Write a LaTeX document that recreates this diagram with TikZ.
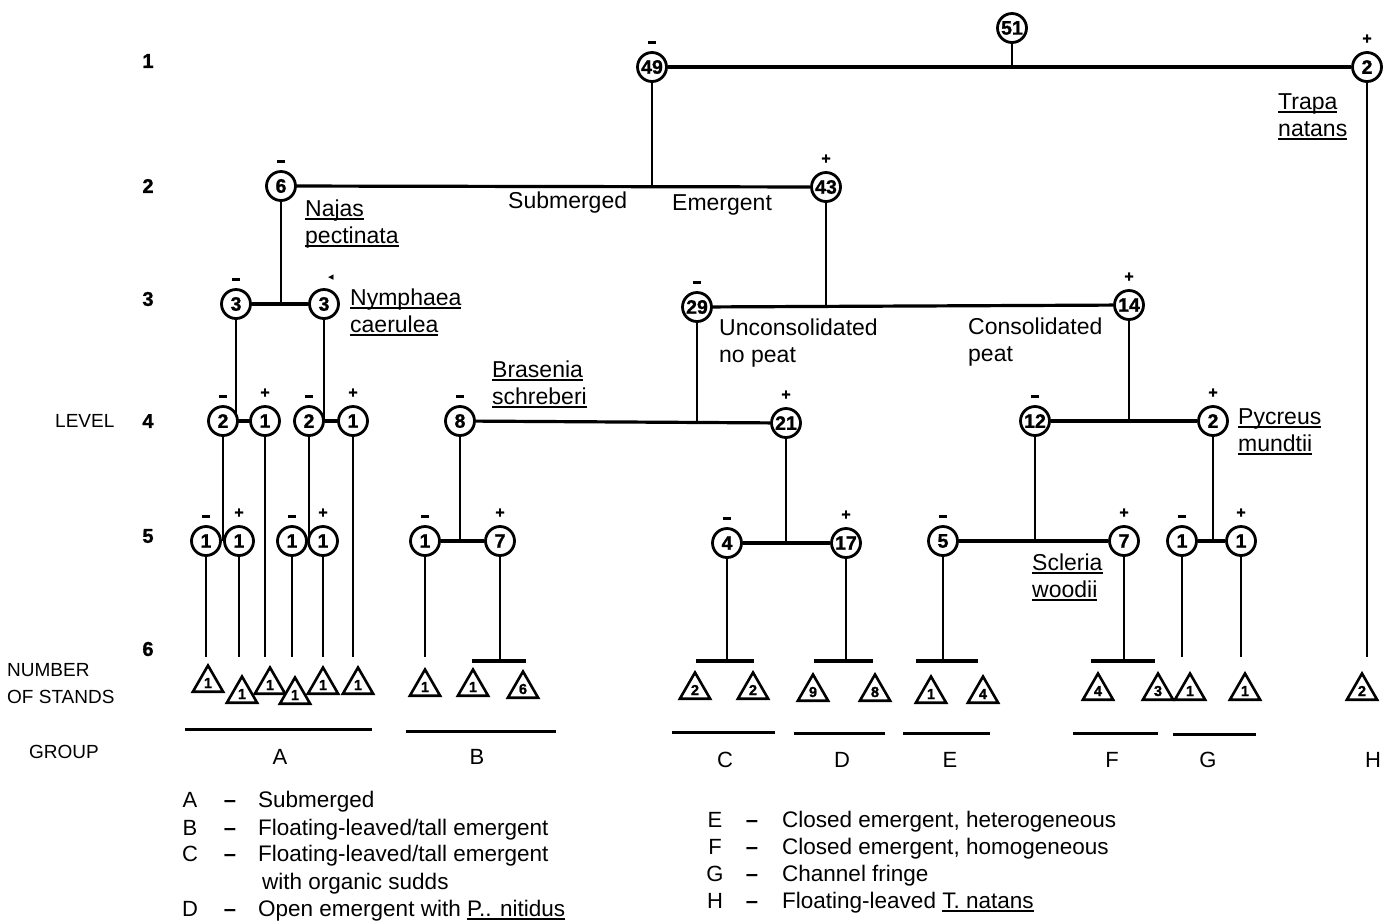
\documentclass[tikz,border=0pt]{standalone}
\usepackage{fontspec}
\setmainfont{Liberation Sans}
\newfontfamily\djv{DejaVu Sans}
\newfontfamily\numfont[FakeBold=1.2]{Liberation Sans Bold}
\usetikzlibrary{shapes.geometric,backgrounds,calc}
\newcommand\ulb[1]{\setbox0=\hbox{#1}\rlap{\rule[-3.5pt]{\wd0}{1.7pt}}\box0}
\newcommand\sgnminus{\rule{8.5pt}{2.8pt}}
\newcommand\sgnplus{{\numfont\fontsize{16}{16}\selectfont +}}
\begin{document}
\begin{tikzpicture}[x=1pt,y=-1pt,
  cnode/.style={circle,draw,fill=white,line width=2.8pt,minimum size=29pt,inner sep=0pt,font=\numfont\fontsize{19.5}{19.5}\selectfont},
  tri/.style={regular polygon,regular polygon sides=3,draw,fill=white,line width=2.6pt,minimum size=35pt,inner sep=0pt,font=\numfont\fontsize{14.5}{14.5}\selectfont},
  sgn/.style={inner sep=0pt},
  lm/.style={label={[sgn]above:\sgnminus}},
  lp/.style={label={[sgn]above:\sgnplus}},
  label distance=7pt,
  ln/.style={line width=2.6pt},
  hb/.style={line width=3.2pt},
  gbar/.style={line width=3pt},
  txt/.style={font=\fontsize{23}{27}\selectfont,inner sep=0pt,anchor=west,align=left},
  lev/.style={font=\fontsize{19}{27}\selectfont,inner sep=0pt,align=left},
  levn/.style={font=\numfont\fontsize{20}{20}\selectfont,inner sep=0pt},
  grp/.style={font=\fontsize{22}{22}\selectfont,inner sep=0pt},
  kl/.style={font=\fontsize{22}{22}\selectfont,inner sep=0pt,anchor=base},
  leg/.style={font=\fontsize{22.5}{27}\selectfont,inner sep=0pt,anchor=base west},
]
\useasboundingbox (0,0) rectangle (1392,922);

% ---- level labels
\node[levn] (l1) at (148,61) {1};
\node[levn] (l2) at (148,186) {2};
\node[levn] (l3) at (148,299) {3};
\node[levn] (l4) at (148,421) {4};
\node[levn] (l5) at (148,536) {5};
\node[levn] (l6) at (148,649) {6};
\node[lev,anchor=west] (tlev) at (55,421) {LEVEL};
\node[lev,anchor=west] (tnum) at (7,684) {NUMBER\\OF STANDS};
\node[lev,anchor=west] (tgrp) at (29,752) {GROUP};

% ---- circles
\node[cnode] (n51) at (1012,28) {51};
\node[cnode,lm] (n49) at (652,67) {49};
\node[cnode,lp] (n2h) at (1367,67) {2};
\node[cnode,lm] (n6) at (281,186) {6};
\node[cnode,lp] (n43) at (826,187) {43};
\node[cnode,lm] (n3a) at (236,304) {3};
\node[cnode,label={[sgn,xshift=7pt]above:{\djv\fontsize{11}{11}\selectfont ◂}}] (n3b) at (324,304) {3};
\node[cnode,lm] (n29) at (697,307) {29};
\node[cnode,lp] (n14) at (1129,305) {14};
\node[cnode,lm] (n2a) at (223,421) {2};
\node[cnode,lp] (n1a) at (265,421) {1};
\node[cnode,lm] (n2b) at (309,421) {2};
\node[cnode,lp] (n1b) at (353,421) {1};
\node[cnode,lm] (n8) at (460,421) {8};
\node[cnode,lp] (n21) at (786,423) {21};
\node[cnode,lm] (n12) at (1035,421) {12};
\node[cnode,lp] (n2p) at (1213,421) {2};
\node[cnode,lm] (n5a) at (206,541) {1};
\node[cnode,lp] (n5b) at (239,541) {1};
\node[cnode,lm] (n5c) at (292,541) {1};
\node[cnode,lp] (n5d) at (323,541) {1};
\node[cnode,lm] (n5e) at (425,541) {1};
\node[cnode,lp] (n5f) at (500,541) {7};
\node[cnode,lm] (n5g) at (727,543) {4};
\node[cnode,lp] (n5h) at (846,543) {17};
\node[cnode,lm] (n5i) at (943,541) {5};
\node[cnode,lp] (n5j) at (1124,541) {7};
\node[cnode,lm] (n5k) at (1182,541) {1};
\node[cnode,lp] (n5l) at (1241,541) {1};

% ---- triangles (number of stands)
\node[tri] (tA1) at (208,683) {1};
\node[tri] (tA2) at (242,694) {1};
\node[tri] (tA3) at (270,685) {1};
\node[tri] (tA4) at (295,695) {1};
\node[tri] (tA5) at (323,685) {1};
\node[tri] (tA6) at (358,685) {1};
\node[tri] (tB1) at (425,687) {1};
\node[tri] (tB2) at (473,687) {1};
\node[tri] (tB3) at (523,689) {6};
\node[tri] (tC1) at (695,690) {2};
\node[tri] (tC2) at (753,690) {2};
\node[tri] (tD1) at (813,692) {9};
\node[tri] (tD2) at (875,692) {8};
\node[tri] (tE1) at (931,694) {1};
\node[tri] (tE2) at (983,694) {4};
\node[tri] (tF1) at (1098,691) {4};
\node[tri] (tF2) at (1158,691) {3};
\node[tri] (tG1) at (1190,691) {1};
\node[tri] (tG2) at (1245,691) {1};
\node[tri] (tH1) at (1362,691) {2};

% ---- coordinates for free ends
\coordinate (lv) at (0,657);
\coordinate (bv) at (0,661);

% ---- connectors (behind circles)
\begin{scope}[on background layer]
\fill[white] (0,0) rectangle (1392,922);
\draw[hb] (n49) -- (n2h);
\draw[ln] (n51) -- (n51 |- n49);
\draw[hb] (n6) -- (n43);
\draw[ln] (n49) -- (n49 |- n6);
\draw[hb] (n3a) -- (n3b);
\draw[ln] (n6) -- (n6 |- n3a);
\draw[hb] (n29) -- (n14);
\draw[ln] (n43) -- (n43 |- n29);
\draw[hb] (n2a) -- (n1a);
\draw[hb] (n2b) -- (n1b);
\draw[ln] (n3a) -- (n3a |- n2a);
\draw[ln] (n3b) -- (n3b |- n2b);
\draw[hb] (n8) -- (n21);
\draw[ln] (n29) -- (n29 |- n8);
\draw[hb] (n12) -- (n2p);
\draw[ln] (n14) -- (n14 |- n12);
\draw[ln] (n2a) -- (n2a |- n5a);
\draw[ln] (n2b) -- (n2b |- n5c);
\draw[hb] (n5e) -- (n5f);
\draw[ln] (n8) -- (n8 |- n5e);
\draw[hb] (n5g) -- (n5h);
\draw[ln] (n21) -- (n21 |- n5g);
\draw[hb] (n5i) -- (n5j);
\draw[ln] (n12) -- (n12 |- n5i);
\draw[hb] (n5k) -- (n5l);
\draw[ln] (n2p) -- (n2p |- n5k);
% leaves
\draw[ln] (n5a) -- (n5a |- lv);
\draw[ln] (n5b) -- (n5b |- lv);
\draw[ln] (n1a) -- (n1a |- lv);
\draw[ln] (n5c) -- (n5c |- lv);
\draw[ln] (n5d) -- (n5d |- lv);
\draw[ln] (n1b) -- (n1b |- lv);
\draw[ln] (n5e) -- (n5e |- lv);
\draw[ln] (n5k) -- (n5k |- lv);
\draw[ln] (n5l) -- (n5l |- lv);
\draw[ln] (n2h) -- (n2h |- lv);
\draw[ln] (n5f) -- (n5f |- bv);
\draw[ln] (n5g) -- (n5g |- bv);
\draw[ln] (n5h) -- (n5h |- bv);
\draw[ln] (n5i) -- (n5i |- bv);
\draw[ln] (n5j) -- (n5j |- bv);
\draw[hb] ($(n5f |- bv)+(-28,0)$) -- ($(n5f |- bv)+(26,0)$);
\draw[hb] ($(n5g |- bv)+(-31,0)$) -- ($(n5g |- bv)+(27,0)$);
\draw[hb] ($(n5h |- bv)+(-32,0)$) -- ($(n5h |- bv)+(27,0)$);
\draw[hb] ($(n5i |- bv)+(-27,0)$) -- ($(n5i |- bv)+(35,0)$);
\draw[hb] ($(n5j |- bv)+(-33,0)$) -- ($(n5j |- bv)+(31,0)$);
\end{scope}

% ---- branch labels
\node[txt] (tsub) at (508,203) {Submerged};
\node[txt] (temg) at (672,205) {Emergent};
\node[txt] (tnaj) at (305,224) {\ulb{Najas}\\\ulb{pectinata}};
\node[txt] (tnym) at (350,312) {\ulb{Nymphaea}\\\ulb{caerulea}};
\node[txt] (tbra) at (492,384) {\ulb{Brasenia}\\\ulb{schreberi}};
\node[txt] (tunc) at (719,343) {Unconsolidated\\no peat};
\node[txt] (tcon) at (968,342) {Consolidated\\peat};
\node[txt] (tpyc) at (1238,432) {\ulb{Pycreus}\\\ulb{mundtii}};
\node[txt] (tscl) at (1032,577) {\ulb{Scleria}\\\ulb{woodii}};
\node[txt] (ttra) at (1278,117) {\ulb{Trapa}\\\ulb{natans}};

% ---- group bars and letters
\coordinate (gA1) at (185,729); \coordinate (gA2) at (372,729);
\coordinate (gB1) at (406,731); \coordinate (gB2) at (556,731);
\coordinate (gC1) at (672,732); \coordinate (gC2) at (775,732);
\coordinate (gD1) at (794,733); \coordinate (gD2) at (885,733);
\coordinate (gE1) at (903,733); \coordinate (gE2) at (990,733);
\coordinate (gF1) at (1073,733); \coordinate (gF2) at (1158,733);
\coordinate (gG1) at (1173,734); \coordinate (gG2) at (1256,734);
\draw[gbar] (gA1) -- (gA2);
\draw[gbar] (gB1) -- (gB2);
\draw[gbar] (gC1) -- (gC2);
\draw[gbar] (gD1) -- (gD2);
\draw[gbar] (gE1) -- (gE2);
\draw[gbar] (gF1) -- (gF2);
\draw[gbar] (gG1) -- (gG2);
\node[grp] (gA) at (280,757) {A};
\node[grp] (gB) at (477,757) {B};
\node[grp] (gC) at (725,760) {C};
\node[grp] (gD) at (842,760) {D};
\node[grp] (gE) at (950,760) {E};
\node[grp] (gF) at (1112,760) {F};
\node[grp] (gG) at (1208,760) {G};
\node[grp] (gH) at (1373,760) {H};

% ---- legend
\node[kl] (kA) at (190,807) {A}; \node[kl] (dA) at (230,807) {\bfseries --}; \node[leg] (eA) at (258,807) {Submerged};
\node[kl] (kB) at (190,835) {B}; \node[kl] (dB) at (230,835) {\bfseries --}; \node[leg] (eB) at (258,835) {Floating-leaved/tall emergent};
\node[kl] (kC) at (190,861) {C}; \node[kl] (dC) at (230,861) {\bfseries --}; \node[leg] (eC) at (258,861) {Floating-leaved/tall emergent};
\node[leg] (eC2) at (262,889) {with organic sudds};
\node[kl] (kD) at (190,916) {D}; \node[kl] (dD) at (230,916) {\bfseries --}; \node[leg] (eD) at (258,916) {Open emergent with \ulb{P.. nitidus}};
\node[kl] (kE) at (715,827) {E}; \node[kl] (dE) at (752,827) {\bfseries --}; \node[leg] (eE) at (782,827) {Closed emergent, heterogeneous};
\node[kl] (kF) at (715,854) {F}; \node[kl] (dF) at (752,854) {\bfseries --}; \node[leg] (eF) at (782,854) {Closed emergent, homogeneous};
\node[kl] (kG) at (715,881) {G}; \node[kl] (dG) at (752,881) {\bfseries --}; \node[leg] (eG) at (782,881) {Channel fringe};
\node[kl] (kH) at (715,908) {H}; \node[kl] (dH) at (752,908) {\bfseries --}; \node[leg] (eH) at (782,908) {Floating-leaved \ulb{T. natans}};
\end{tikzpicture}
\end{document}
